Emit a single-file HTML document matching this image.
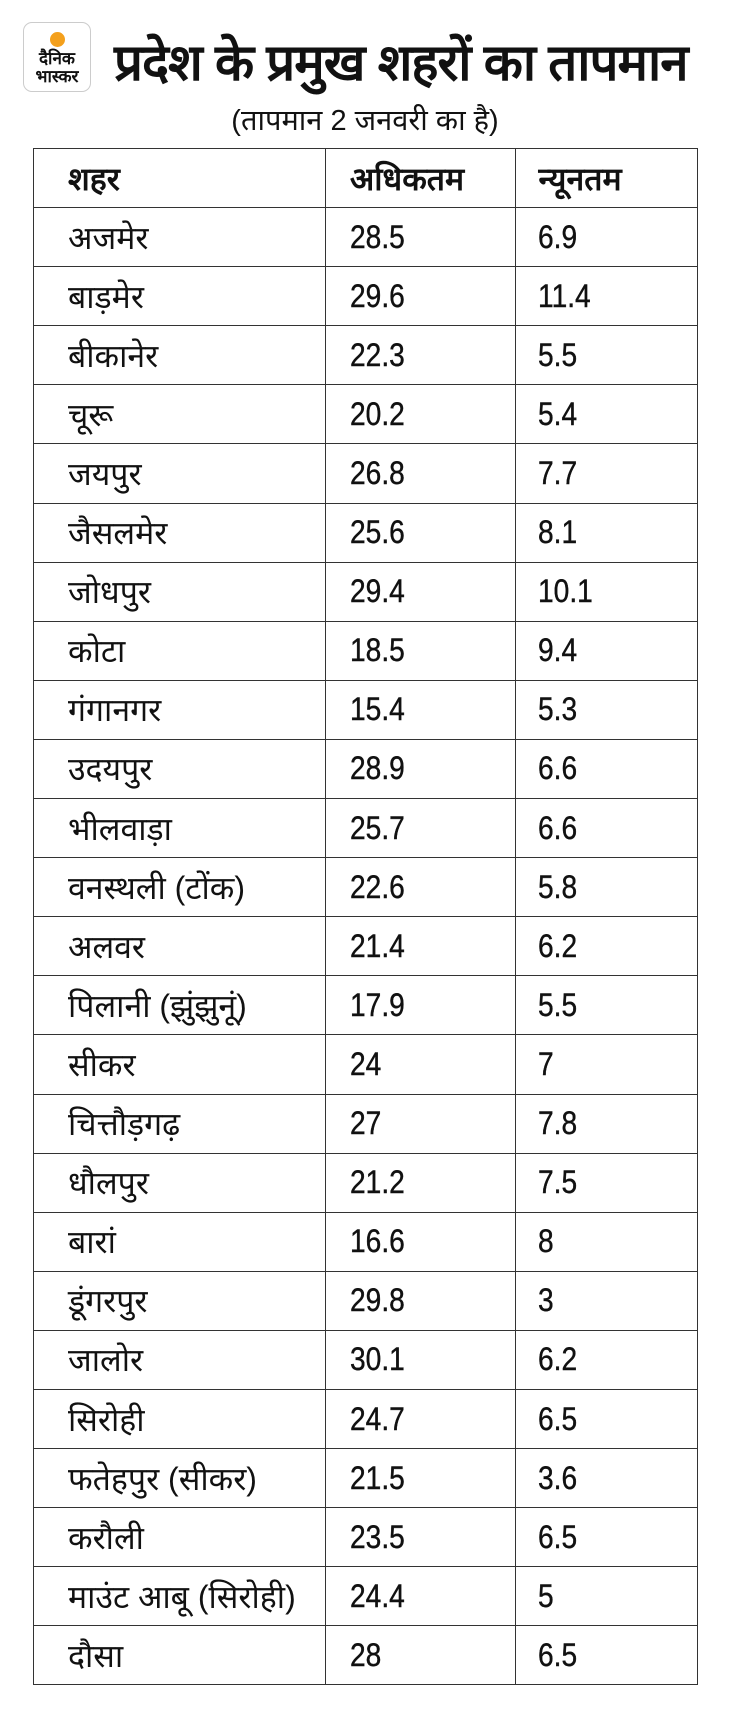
<!DOCTYPE html>
<html><head><meta charset="utf-8"><style>
html,body{margin:0;padding:0;background:#fff;width:730px;height:1718px;overflow:hidden}
body{position:relative;font-family:"Liberation Sans",sans-serif;color:#111}
.logo{position:absolute;left:23px;top:22px;width:68px;height:70px;border:1px solid #ccc;border-radius:9px;box-sizing:border-box}
.dot{position:absolute;left:50px;top:32px;width:15px;height:15px;border-radius:50%;background:#f4a01c}
.lt{position:absolute;left:23px;width:68px;text-align:center;font-weight:bold;font-size:17px;line-height:16px}
.title{position:absolute;left:114px;top:31px;font-size:51px;font-weight:bold;line-height:64px;white-space:nowrap;letter-spacing:-1px}
.sub{position:absolute;left:0;width:730px;text-align:center;top:103px;font-size:29px;line-height:36px}
table{position:absolute;left:33px;top:148px;border-collapse:collapse;width:665px}
td{border:1.5px solid #333;height:59.1px;padding:0 0 0 34px;font-size:32px;white-space:nowrap;box-sizing:border-box}
td.n{padding-left:24px}
td.m{padding-left:22px}
td span{display:inline-block;transform:scaleX(0.88);transform-origin:left center;-webkit-text-stroke:0.4px #111}
tr.h td{font-weight:bold}
</style></head><body>
<div class="logo"></div><div class="dot"></div>
<div class="lt" style="top:51px">दैनिक</div><div class="lt" style="top:69px">भास्कर</div>
<div class="title">प्रदेश के प्रमुख शहरों का तापमान</div>
<div class="sub">(तापमान 2 जनवरी का है)</div>
<table>
<colgroup><col style="width:292px"><col style="width:191px"><col style="width:182px"></colgroup>
<tr class="h"><td>शहर</td><td class="n">अधिकतम</td><td class="m">न्यूनतम</td></tr>
<tr><td>अजमेर</td><td class="n"><span>28.5</span></td><td class="m"><span>6.9</span></td></tr>
<tr><td>बाड़मेर</td><td class="n"><span>29.6</span></td><td class="m"><span>11.4</span></td></tr>
<tr><td>बीकानेर</td><td class="n"><span>22.3</span></td><td class="m"><span>5.5</span></td></tr>
<tr><td>चूरू</td><td class="n"><span>20.2</span></td><td class="m"><span>5.4</span></td></tr>
<tr><td>जयपुर</td><td class="n"><span>26.8</span></td><td class="m"><span>7.7</span></td></tr>
<tr><td>जैसलमेर</td><td class="n"><span>25.6</span></td><td class="m"><span>8.1</span></td></tr>
<tr><td>जोधपुर</td><td class="n"><span>29.4</span></td><td class="m"><span>10.1</span></td></tr>
<tr><td>कोटा</td><td class="n"><span>18.5</span></td><td class="m"><span>9.4</span></td></tr>
<tr><td>गंगानगर</td><td class="n"><span>15.4</span></td><td class="m"><span>5.3</span></td></tr>
<tr><td>उदयपुर</td><td class="n"><span>28.9</span></td><td class="m"><span>6.6</span></td></tr>
<tr><td>भीलवाड़ा</td><td class="n"><span>25.7</span></td><td class="m"><span>6.6</span></td></tr>
<tr><td>वनस्थली (टोंक)</td><td class="n"><span>22.6</span></td><td class="m"><span>5.8</span></td></tr>
<tr><td>अलवर</td><td class="n"><span>21.4</span></td><td class="m"><span>6.2</span></td></tr>
<tr><td>पिलानी (झुंझुनूं)</td><td class="n"><span>17.9</span></td><td class="m"><span>5.5</span></td></tr>
<tr><td>सीकर</td><td class="n"><span>24</span></td><td class="m"><span>7</span></td></tr>
<tr><td>चित्तौड़गढ़</td><td class="n"><span>27</span></td><td class="m"><span>7.8</span></td></tr>
<tr><td>धौलपुर</td><td class="n"><span>21.2</span></td><td class="m"><span>7.5</span></td></tr>
<tr><td>बारां</td><td class="n"><span>16.6</span></td><td class="m"><span>8</span></td></tr>
<tr><td>डूंगरपुर</td><td class="n"><span>29.8</span></td><td class="m"><span>3</span></td></tr>
<tr><td>जालोर</td><td class="n"><span>30.1</span></td><td class="m"><span>6.2</span></td></tr>
<tr><td>सिरोही</td><td class="n"><span>24.7</span></td><td class="m"><span>6.5</span></td></tr>
<tr><td>फतेहपुर (सीकर)</td><td class="n"><span>21.5</span></td><td class="m"><span>3.6</span></td></tr>
<tr><td>करौली</td><td class="n"><span>23.5</span></td><td class="m"><span>6.5</span></td></tr>
<tr><td>माउंट आबू (सिरोही)</td><td class="n"><span>24.4</span></td><td class="m"><span>5</span></td></tr>
<tr><td>दौसा</td><td class="n"><span>28</span></td><td class="m"><span>6.5</span></td></tr>
</table>
</body></html>
